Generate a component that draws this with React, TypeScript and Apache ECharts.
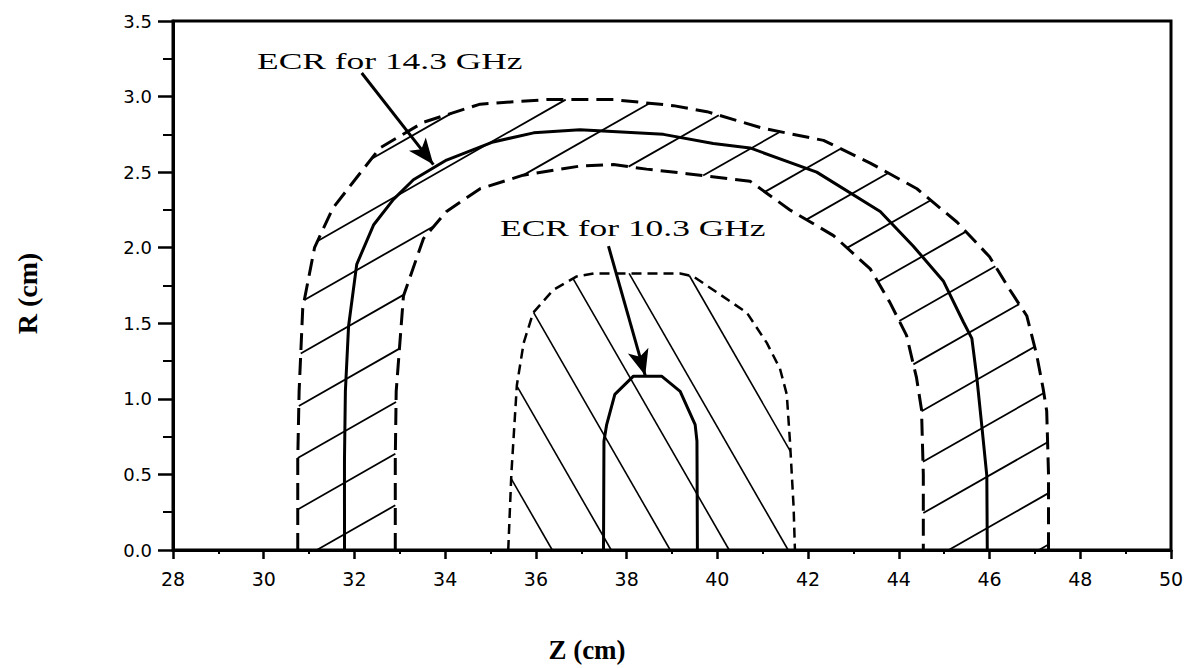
import React, { useEffect, useRef } from "react";
import * as echarts from "echarts";

// ---- data (Z in cm, R in cm) ----
const OUTER_14: number[][] = [
  [30.75, 0], [30.75, 0.6], [30.78, 1.05], [30.86, 1.6], [31.12, 2.0], [31.52, 2.26],
  [31.96, 2.43], [32.56, 2.66], [33.52, 2.83], [34.77, 2.95], [36.24, 2.98], [37.71, 2.98],
  [39.03, 2.94], [39.77, 2.9], [41.01, 2.79], [42.34, 2.71], [43.37, 2.56], [44.4, 2.39],
  [45.28, 2.17], [46.0, 1.94], [46.45, 1.72], [46.82, 1.55], [47.04, 1.29], [47.18, 1.07],
  [47.26, 0.92], [47.3, 0.5], [47.3, 0],
];
const INNER_14: number[][] = [
  [32.9, 0], [32.9, 0.6], [32.92, 1.05], [33.08, 1.68], [33.52, 2.06], [34.03, 2.24],
  [34.77, 2.39], [35.72, 2.48], [36.97, 2.54], [37.71, 2.55], [38.44, 2.52], [39.33, 2.49],
  [40.72, 2.44], [41.6, 2.25], [42.56, 2.08], [43.37, 1.86], [43.8, 1.64], [44.17, 1.42],
  [44.39, 1.14], [44.5, 0.93], [44.54, 0.5], [44.54, 0],
];
const ECR_14: number[][] = [
  [31.78, 0], [31.78, 0.6], [31.8, 1.05], [31.87, 1.48], [32.05, 1.89], [32.42, 2.15],
  [32.86, 2.32], [33.3, 2.45], [34.03, 2.58], [35.06, 2.7], [35.95, 2.76], [36.97, 2.78],
  [38.81, 2.75], [39.91, 2.69], [40.72, 2.66], [42.19, 2.5], [43.59, 2.24], [44.32, 2.01],
  [44.98, 1.78], [45.42, 1.51], [45.61, 1.4], [45.72, 1.14], [45.83, 0.82], [45.94, 0.49],
  [45.95, 0],
];
const OUTER_10: number[][] = [
  [35.39, 0], [35.46, 0.51], [35.58, 1.09], [35.73, 1.37], [35.94, 1.57], [36.38, 1.72],
  [36.9, 1.81], [37.27, 1.83], [39.18, 1.83], [39.47, 1.81], [40.65, 1.57], [41.09, 1.37],
  [41.38, 1.2], [41.53, 1.03], [41.6, 0.72], [41.68, 0.29], [41.71, 0],
];
const ECR_10: number[][] = [
  [37.49, 0], [37.5, 0.72], [37.56, 0.83], [37.74, 1.03], [38.15, 1.15], [38.77, 1.15],
  [39.18, 1.05], [39.51, 0.83], [39.55, 0.72], [39.56, 0],
];

// annotation arrows: [start, tip]
const ARROW_14: number[][] = [[32.16, 3.156], [33.74, 2.55]];
const ARROW_10: number[][] = [[37.6, 2.01], [38.41, 1.154]];
const LABEL_14 = "ECR for 14.3 GHz";
const LABEL_10 = "ECR for 10.3 GHz";

// axes
const X_MIN = 28, X_MAX = 50, X_STEP = 2;
const Y_MIN = 0, Y_MAX = 3.5, Y_STEP = 0.5;

// hatch patterns (slope in data units, one line through `origin` on R=0, repeated every `step`)
const HATCH_14 = { slope: 0.171, origin: 31.17, step: 1.99 };
const HATCH_10 = { slope: -0.522, origin: 38.96, step: 1.3 };

// layout
const W = 1192, H = 668;
const GRID = { left: 173, right: 21, top: 21, bottom: 109 };

function hatchSegments(poly: number[][], pat: { slope: number; origin: number; step: number }) {
  const segs: any[] = [];
  const m = pat.slope;
  for (let k = -30; k <= 30; k++) {
    const zk = pat.origin + k * pat.step;
    const f = (p: number[]) => p[1] - m * (p[0] - zk);
    const xs: number[] = [];
    for (let i = 0; i < poly.length; i++) {
      const a = poly[i], b = poly[(i + 1) % poly.length];
      const fa = f(a), fb = f(b);
      if (fa > 0 !== fb > 0) {
        const t = fa / (fa - fb);
        xs.push(a[0] + t * (b[0] - a[0]));
      }
    }
    xs.sort((p, q) => p - q);
    for (let j = 0; j + 1 < xs.length; j += 2) {
      segs.push({
        coords: [
          [xs[j], m * (xs[j] - zk)],
          [xs[j + 1], m * (xs[j + 1] - zk)],
        ],
      });
    }
  }
  return segs;
}

export default function App() {
  const ref = useRef<HTMLDivElement>(null);
  useEffect(() => {
    if (!ref.current) return;
    const chart = echarts.init(ref.current, null, { renderer: "svg" });
    const band14 = [...OUTER_14, ...INNER_14.slice().reverse()];
    const hatch14 = hatchSegments(band14, HATCH_14);
    const hatch10 = hatchSegments(OUTER_10, HATCH_10);
    const boundary = (name: string, data: number[][], type: any, width: number) => ({
      type: "line",
      name,
      data,
      symbol: "none",
      showSymbol: false,
      silent: true,
      z: 3,
      lineStyle: { color: "#000", width, type },
    });
    const labelStyle = (text: string) => ({
      text,
      fontFamily: "Liberation Serif",
      fontSize: 23,
      fill: "#000",
      align: "left",
      verticalAlign: "middle",
      textAlign: "left",
      textVerticalAlign: "middle",
    });
    chart.setOption({
      animation: false,
      backgroundColor: "#fff",
      grid: { ...GRID, show: true, borderColor: "#000", borderWidth: 3, backgroundColor: "transparent" },
      xAxis: {
        type: "value",
        min: X_MIN,
        max: X_MAX,
        interval: X_STEP,
        axisLine: { show: true, onZero: false, lineStyle: { color: "#000", width: 3 } },
        axisTick: { show: true, length: 9, lineStyle: { color: "#000", width: 2.5 } },
        minorTick: { show: true, splitNumber: 2, length: 4, lineStyle: { color: "#000", width: 2 } },
        splitLine: { show: false },
        minorSplitLine: { show: false },
        axisLabel: { color: "#000", fontFamily: "DejaVu Sans", fontSize: 19, margin: 19 },
        name: "Z (cm)",
        nameLocation: "middle",
        nameGap: 86,
        nameTextStyle: {
          color: "#000",
          fontFamily: "Liberation Serif",
          fontWeight: "bold",
          fontSize: 27,
          padding: [0, 170, 0, 0],
        },
      },
      yAxis: {
        type: "value",
        min: Y_MIN,
        max: Y_MAX,
        interval: Y_STEP,
        axisLine: { show: true, onZero: false, lineStyle: { color: "#000", width: 3 } },
        axisTick: { show: true, length: 15, lineStyle: { color: "#000", width: 2.5 } },
        minorTick: { show: true, splitNumber: 2, length: 10, lineStyle: { color: "#000", width: 2 } },
        splitLine: { show: false },
        minorSplitLine: { show: false },
        axisLabel: {
          color: "#000",
          fontFamily: "DejaVu Sans",
          fontSize: 18,
          margin: 21,
          formatter: (v: number) => v.toFixed(1),
        },
        name: "R (cm)",
        nameLocation: "middle",
        nameRotate: 90,
        nameGap: 132,
        nameTextStyle: {
          color: "#000",
          fontFamily: "Liberation Serif",
          fontWeight: "bold",
          fontSize: 28,
          padding: [0, 16, 0, 0],
        },
      },
      graphic: [
        { type: "text", x: 257, y: 61, scaleX: 1.54, style: labelStyle(LABEL_14) },
        { type: "text", x: 500, y: 228, scaleX: 1.54, style: labelStyle(LABEL_10) },
      ],
      series: [
        {
          type: "lines",
          coordinateSystem: "cartesian2d",
          silent: true,
          z: 2,
          symbol: "none",
          lineStyle: { color: "#000", width: 1.8, opacity: 1 },
          data: hatch14,
        },
        {
          type: "lines",
          coordinateSystem: "cartesian2d",
          silent: true,
          z: 2,
          symbol: "none",
          lineStyle: { color: "#000", width: 1.6, opacity: 1 },
          data: hatch10,
        },
        boundary("outer 14.3", OUTER_14, [17, 8], 3),
        boundary("inner 14.3", INNER_14, [17, 8], 3),
        boundary("ECR 14.3 GHz", ECR_14, "solid", 3),
        boundary("outer 10.3", OUTER_10, [10, 6], 2.5),
        boundary("ECR 10.3 GHz", ECR_10, "solid", 3),
        {
          type: "lines",
          coordinateSystem: "cartesian2d",
          silent: true,
          z: 5,
          symbol: ["none", "arrow"],
          symbolSize: [4, [16, 26]],
          lineStyle: { color: "#000", width: 3, opacity: 1 },
          data: [{ coords: ARROW_14 }, { coords: ARROW_10 }],
        },
      ],
    });
    return () => chart.dispose();
  }, []);
  return (
    <div
      ref={ref}
      style={{ position: "absolute", left: 0, top: 0, width: W, height: H, background: "#fff" }}
    />
  );
}
